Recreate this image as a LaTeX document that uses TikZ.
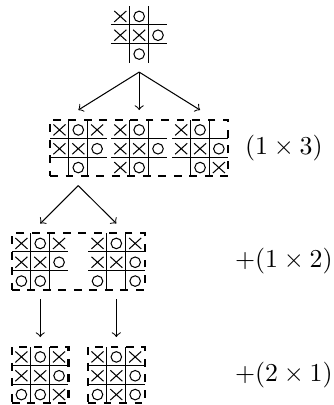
\documentclass[tikz,border=0pt]{standalone}
\usepackage{amsmath,amssymb}
\usepackage{tikz}
\usetikzlibrary{fit}
\newcommand{\cw}{7.3pt}
% board: name, position, X cells (col/row), O cells (col/row)
\newcommand{\board}[4]{
  \node[boardbox] (#1) at (#2) {};
  \begin{scope}[shift={(#1.south west)}, x=\cw, y=\cw]
    \draw (0,1) -- (3,1) (0,2) -- (3,2) (1,0) -- (1,3) (2,0) -- (2,3);
    \foreach \c/\r in {#3}
      \draw (\c-0.5,3.45-\r) +(-0.32,-0.29) -- +(0.32,0.29) +(-0.32,0.29) -- +(0.32,-0.29);
    \foreach \c/\r in {#4}
      \draw (\c-0.5,3.45-\r) circle[radius=2.05pt];
  \end{scope}}
\tikzset{
  boardbox/.style={minimum size=21.9pt, inner sep=0pt, outer sep=0pt},
  group/.style={draw, thick, dashed, inner sep=0pt, fit=#1}
}

\begin{document}
\begin{tikzpicture}[x=1pt, y=1pt]
    \useasboundingbox (-53.95,13.3) rectangle (75.5,-143.7);
    % start
    \board{T}{0,0}{1/1,1/2,2/2}{2/1,3/2,2/3}
    % row2
    \board{b1}{-23.6,-44}{1/1,3/1,1/2,2/2}{2/1,3/2,2/3}
    \board{b2}{0,-44}{1/1,1/2,2/2,1/3}{2/1,3/2,2/3}
    \board{b3}{23.6,-44}{1/1,1/2,2/2,3/3}{2/1,3/2,2/3}
    \node[group=(b1)(b3)] (g2) {};
    % row3
    \board{c1}{-38.35,-88}{1/1,3/1,1/2,2/2}{2/1,3/2,1/3,2/3}
    \board{c2}{-8.85,-88}{1/1,3/1,1/2,2/2}{2/1,3/2,1/3,3/3}
    \node[group=(c1)(c2)] (g3) {};
    % row4
    \board{d1}{-38.35,-132}{1/1,3/1,1/2,2/2,3/3}{2/1,3/2,1/3,2/3}
    \board{d2}{-8.85,-132}{1/1,3/1,1/2,2/2,2/3}{2/1,3/2,1/3,3/3}
    \node[group=(d1)] (g4a) {};
    \node[group=(d2)] (g4b) {};
    % moves
    \foreach \b in {b1,b2,b3}
      \draw[->] ([yshift=-3.7pt]T.south) -- ([yshift=3.7pt]\b.north);
    \foreach \b in {c1,c2}
      \draw[->] ([yshift=-3.7pt]b1.south) -- ([yshift=3.7pt]\b.north);
    \draw[->] ([yshift=-3.7pt]c1.south) -- ([yshift=3.7pt]d1.north);
    \draw[->] ([yshift=-3.7pt]c2.south) -- ([yshift=3.7pt]d2.north);
    % counts
    \node (n2) at (56.1,-44) {$(1\times 3)$};
    \node (n3) at (56.1,-88) {$+(1\times 2)$};
    \node (n4) at (56.1,-132) {$+(2\times 1)$};
\end{tikzpicture}
\end{document}
